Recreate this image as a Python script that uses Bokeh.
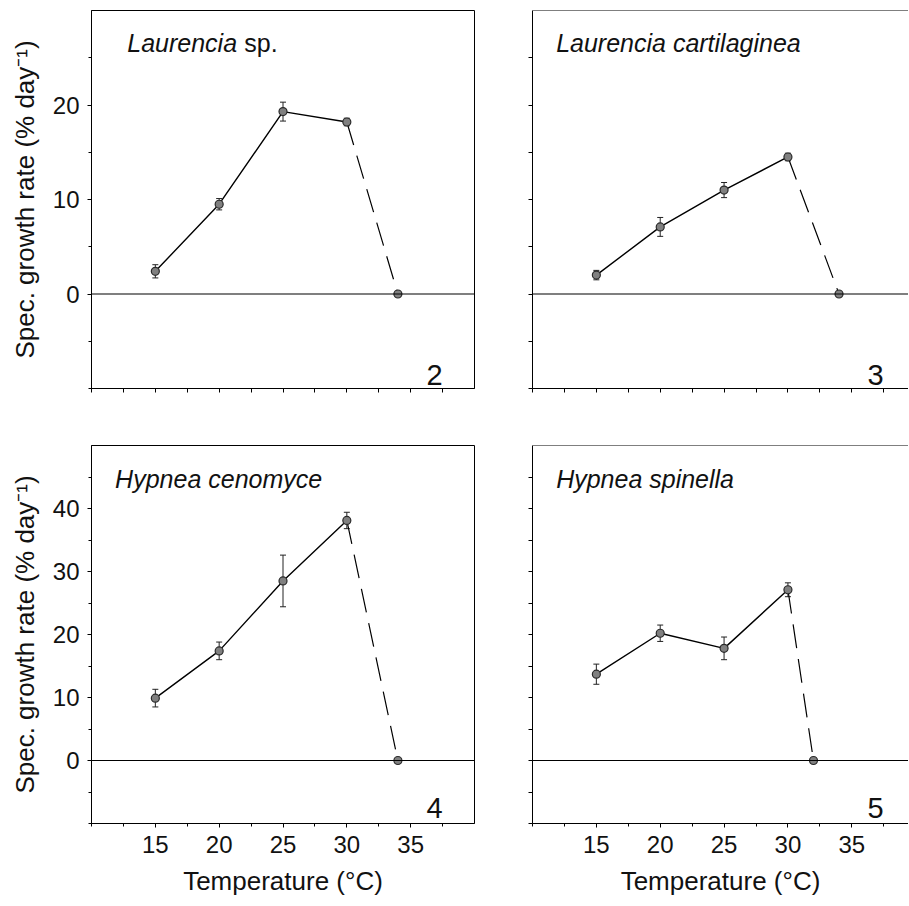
from bokeh.plotting import figure
from bokeh.layouts import column, row
from bokeh.models import (FixedTicker, Span, Whisker, TeeHead, ColumnDataSource,
                          Label, Range1d)
from bokeh.embed import file_html
from bokeh.resources import INLINE

# ---------------- data ----------------
temps = [15, 20, 25, 30]

lsp_mean = [2.4, 9.5, 19.3, 18.2]
lsp_err = [0.7, 0.6, 1.0, 0.4]
lsp_zero_t = 34

lcart_mean = [2.0, 7.1, 11.0, 14.5]
lcart_err = [0.5, 1.0, 0.8, 0.4]
lcart_zero_t = 34

hcen_mean = [9.9, 17.4, 28.5, 38.1]
hcen_err = [1.4, 1.4, 4.1, 1.3]
hcen_zero_t = 34

hspi_mean = [13.7, 20.2, 17.8, 27.1]
hspi_err = [1.6, 1.3, 1.8, 1.1]
hspi_zero_t = 32

x_major = [15, 20, 25, 30, 35]
x_minor = [10, 12.5, 17.5, 22.5, 27.5, 32.5, 37.5]
y_major_top = [0, 10, 20]
y_minor_top = [-10, -5, 5, 15, 25]
y_major_bot = [0, 10, 20, 30, 40]
y_minor_bot = [-10, -5, 5, 15, 25, 35, 45]

FONT = "Liberation Sans"
TXT = "#111111"


def panel(mean, err, zero_t, title_main, title_rest, num, *, left, top):
    fw = 383 if left else 376
    x_end = 40 if left else 39.44
    y_end = 30 if top else 50
    p = figure(frame_width=fw, frame_height=378,
               x_range=Range1d(10, x_end), y_range=Range1d(-10, y_end),
               output_backend="svg", toolbar_location=None,
               min_border_left=91 if left else 50,
               min_border_right=8 if left else 0,
               min_border_top=10 if top else 32,
               min_border_bottom=25 if top else 82,
               background_fill_color="white", border_fill_color="white")
    p.xgrid.visible = False
    p.ygrid.visible = False
    if left:
        p.outline_line_color = "black"
        p.outline_line_width = 1
    else:
        p.outline_line_color = None
        p.add_layout(Span(location=y_end, dimension="width",
                          line_color="black", line_width=1))

    for ax in (p.xaxis[0], p.yaxis[0]):
        ax.axis_line_color = "black"
        ax.axis_line_width = 1
        ax.major_tick_in = 0
        ax.major_tick_out = 4
        ax.minor_tick_in = 0
        ax.minor_tick_out = 3
        ax.major_tick_line_color = "black"
        ax.minor_tick_line_color = "black"
        ax.major_label_text_font = FONT
        ax.major_label_text_font_size = "24px"
        ax.major_label_text_color = TXT
        ax.major_label_standoff = 8
        ax.axis_label_text_font = FONT
        ax.axis_label_text_font_style = "normal"
        ax.axis_label_text_color = TXT

    # x axis: labels only on the bottom row
    if top:
        p.xaxis[0].ticker = FixedTicker(ticks=[], minor_ticks=sorted(x_major + x_minor))
        p.xaxis[0].minor_tick_out = 4
    else:
        p.xaxis[0].ticker = FixedTicker(ticks=x_major, minor_ticks=x_minor)
        p.xaxis[0].axis_label = "Temperature (°C)"
        p.xaxis[0].axis_label_text_font_size = "26px"
        p.xaxis[0].axis_label_standoff = 10

    ymaj = y_major_top if top else y_major_bot
    ymin = y_minor_top if top else y_minor_bot
    if left:
        p.yaxis[0].ticker = FixedTicker(ticks=ymaj, minor_ticks=ymin)
        p.yaxis[0].axis_label = "Spec. growth rate (% day⁻¹)"
        p.yaxis[0].axis_label_text_font_size = "26px"
        p.yaxis[0].axis_label_standoff = 10
    else:
        p.yaxis[0].ticker = FixedTicker(ticks=[], minor_ticks=sorted(ymaj + ymin))
        p.yaxis[0].minor_tick_out = 4

    # zero reference line
    p.add_layout(Span(location=0, dimension="width", line_color="black", line_width=1.2))

    # error bars
    src = ColumnDataSource(dict(x=temps,
                                upper=[m + e for m, e in zip(mean, err)],
                                lower=[m - e for m, e in zip(mean, err)]))
    wh = Whisker(source=src, base="x", upper="upper", lower="lower",
                 dimension="height", line_color="#222222", line_width=1,
                 upper_head=TeeHead(size=6, line_color="#222222", line_width=1),
                 lower_head=TeeHead(size=6, line_color="#222222", line_width=1))
    wh.level = "underlay"
    p.add_layout(wh)

    # lines
    p.line(temps, mean, line_color="black", line_width=1.4)
    p.line([temps[-1], zero_t], [mean[-1], 0], line_color="black",
           line_width=1.2, line_dash="24 11")
    # markers
    p.scatter(temps + [zero_t], mean + [0], size=8, marker="circle",
              fill_color="#808080", line_color="#2a2a2a", line_width=1.2)

    # titles
    ty = 26.58 if top else 44.7
    tx = 12.8 if title_rest else 11.85
    p.add_layout(Label(x=tx, y=ty, text=title_main, text_font=FONT,
                       text_font_style="italic", text_font_size="25px",
                       text_color=TXT, text_align="left", text_baseline="alphabetic"))
    if title_rest:
        p.add_layout(Label(x=tx, y=ty, x_offset=117, text=title_rest, text_font=FONT,
                           text_font_style="normal", text_font_size="25px",
                           text_color=TXT, text_align="left",
                           text_baseline="alphabetic"))
    # panel number
    ny = -8.6 if top else -7.5
    p.add_layout(Label(x=37.5, y=ny, text=num, text_font=FONT,
                       text_font_size="29px", text_color=TXT,
                       text_align="right", text_baseline="alphabetic"))
    return p


p1 = panel(lsp_mean, lsp_err, lsp_zero_t, "Laurencia", "sp.", "2", left=True, top=True)
p2 = panel(lcart_mean, lcart_err, lcart_zero_t, "Laurencia cartilaginea", None, "3",
           left=False, top=True)
p3 = panel(hcen_mean, hcen_err, hcen_zero_t, "Hypnea cenomyce", None, "4",
           left=True, top=False)
p4 = panel(hspi_mean, hspi_err, hspi_zero_t, "Hypnea spinella", None, "5",
           left=False, top=False)

layout = column(row(p1, p2), row(p3, p4))
open("out.html", "w").write(file_html(layout, INLINE))
